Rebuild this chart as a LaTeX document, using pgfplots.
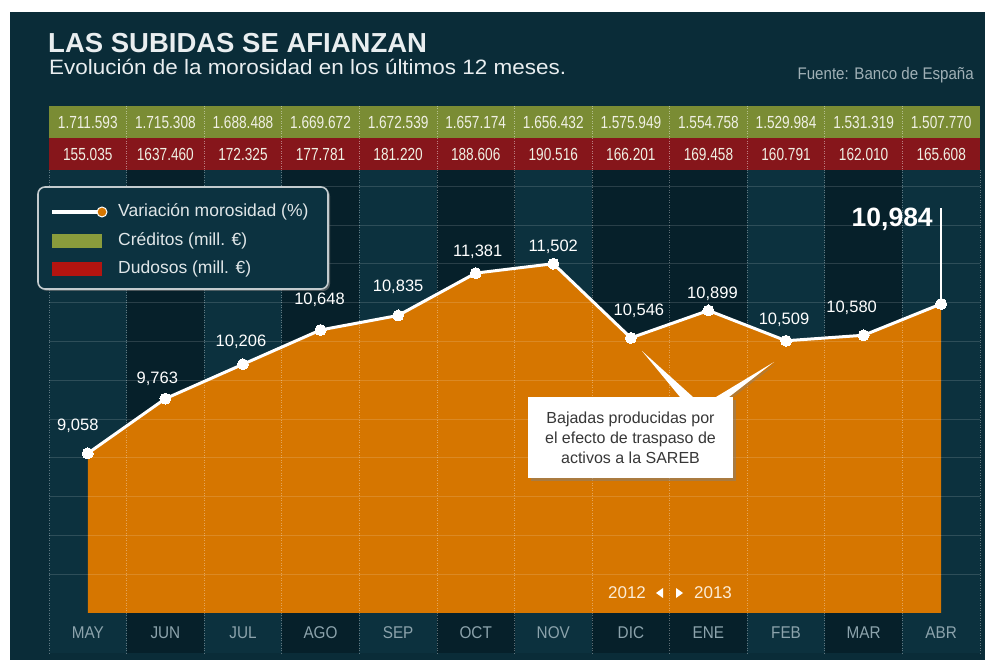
\documentclass[border=0pt]{standalone}
\usepackage{pgfplots}
\pgfplotsset{compat=1.18}
\usepackage{pgfplotstable}
\usepackage{fontspec}
\setmainfont{Liberation Sans}
\newfontfamily\cond[FakeStretch=0.9]{Liberation Sans}
\newfontfamily\tcond[FakeStretch=0.78]{Liberation Sans}
\newfontfamily\wide[FakeStretch=1.08]{Liberation Sans}
\usetikzlibrary{shadows}

\definecolor{bg}{RGB}{10,44,56}
\definecolor{colDark}{RGB}{6,32,42}
\definecolor{colLight}{RGB}{12,49,62}
\definecolor{orangeA}{RGB}{214,118,0}
\definecolor{greenC}{RGB}{122,140,52}
\definecolor{redC}{RGB}{134,22,27}
\definecolor{legGreen}{RGB}{138,156,60}
\definecolor{legRed}{RGB}{180,20,16}
\definecolor{monthGray}{RGB}{140,163,172}
\definecolor{srcGray}{RGB}{160,176,182}
\definecolor{titleC}{RGB}{233,238,240}
\definecolor{cellText}{RGB}{240,240,228}
\definecolor{legBox}{RGB}{12,50,64}

% Variacion morosidad (%), label offsets dx, dy (pt)
\pgfplotstableread{
x y dx dy
0 9.058 -10 28
1 9.763 -8 20
2 10.206 -2 22
3 10.648 -1 30
4 10.835 0 29
5 11.381 2 21
6 11.502 0 17
7 10.546 8 27
8 10.899 4 17
9 10.509 -2 21
10 10.580 -12 27
11 10.984 0 0
}\morosidad

\begin{document}
\begin{tikzpicture}[x=1pt,y=1pt]
\useasboundingbox (0,0) rectangle (994,662);
\fill[white] (0,0) rectangle (994,662);
\fill[bg] (10,2) rectangle (985,650);
% column shading
\foreach \i in {0,2,4,6,9,11}
  \fill[colLight] ({49+77.583*\i},9) rectangle ({49+77.583*(\i+1)},492);
\foreach \i in {1,3,5,7,8,10}
  \fill[colDark] ({49+77.583*\i},9) rectangle ({49+77.583*(\i+1)},492);

\begin{axis}[
  at={(49pt,49pt)}, anchor=south west,
  scale only axis, width=931pt, height=443pt,
  xmin=-0.5, xmax=11.5, ymin=7, ymax=12.71,
  axis line style={draw=none},
  axis on top,
  /pgf/number format/assume math mode=true,
  ytick={7.5,8,8.5,9,9.5,10,10.5,11,11.5,12,12.5}, yticklabels={},
  ymajorgrids,
  grid style={white, opacity=0.14, line width=1pt},
  xtick={0,...,11},
  xticklabels={MAY,JUN,JUL,AGO,SEP,OCT,NOV,DIC,ENE,FEB,MAR,ABR},
  xticklabel style={anchor=center, yshift=-20pt, font=\cond\fontsize{17}{17}\selectfont, text=monthGray},
  major tick length=0pt,
]
\addplot[fill=orangeA, draw=none] table[x=x,y=y]{\morosidad} \closedcycle;
\addplot[white, line width=3pt, mark=*, mark size=5.5pt,
  mark options={fill=white, draw=white, line width=0pt}] table[x=x,y=y]{\morosidad};
\addplot[draw=none, mark=none, skip coords between index={11}{12},
  point meta=y,
  nodes near coords={\pgfmathprintnumber[fixed,fixed zerofill,precision=3,use comma,assume math mode=true]{\pgfplotspointmeta}},
  visualization depends on={\thisrow{dx} \as \dx},
  visualization depends on={\thisrow{dy} \as \dy},
  every node near coord/.append style={anchor=center, xshift=\dx pt, yshift=\dy pt,
    font=\fontsize{16.5}{16.5}\selectfont, text=white, inner sep=0pt}]
  table[x=x,y=y]{\morosidad};
\coordinate (abr) at (axis cs:11,10.984);
\end{axis}

% dotted column separators
\foreach \k in {0,...,12}
  \draw[white, opacity=0.35, line width=0.8pt, dash pattern=on 1pt off 1.5pt]
    ({49+77.583*\k},492) -- ({49+77.583*\k},9);

% table rows
\fill[greenC] (49,524) rectangle (980,556);
\fill[redC] (49,492) rectangle (980,524);
\foreach \k in {1,...,11}
  \draw[white, opacity=0.45, line width=0.8pt, dash pattern=on 1pt off 1.5pt]
    ({49+77.583*\k},556) -- ({49+77.583*\k},492);
\foreach \v [count=\i from 0] in {1.711.593,1.715.308,1.688.488,1.669.672,1.672.539,1.657.174,1.656.432,1.575.949,1.554.758,1.529.984,1.531.319,1.507.770}
  \node[font=\tcond\fontsize{17.5}{17.5}\selectfont, text=cellText] at ({49+77.583*(\i+0.5)},540) {\v};
\foreach \v [count=\i from 0] in {155.035,1637.460,172.325,177.781,181.220,188.606,190.516,166.201,169.458,160.791,162.010,165.608}
  \node[font=\tcond\fontsize{17.5}{17.5}\selectfont, text=cellText] at ({49+77.583*(\i+0.5)},508) {\v};

% title block
\node[anchor=base west, inner sep=0pt, font=\bfseries\fontsize{27.5}{27.5}\selectfont, text=titleC] at (48,609) {LAS SUBIDAS SE AFIANZAN};
\node[anchor=base west, inner sep=0pt, font=\wide\fontsize{20.8}{20.8}\selectfont, text=titleC] at (49,587) {Evolución de la morosidad en los últimos 12 meses.};
\node[anchor=base east, inner sep=0pt, font=\cond\fontsize{16.8}{16.8}\selectfont, text=srcGray] at (974,582) {Fuente: Banco de España};

% last value callout
\draw[white, line width=1.5pt] (abr) -- ++(0,96);
\path (abr) ++(-49,85) node[font=\bfseries\fontsize{26.5}{26.5}\selectfont, text=white] {10,984};

% year marker
\node[font=\fontsize{17}{17}\selectfont, text={rgb,255:red,252;green,236;blue,214}] at (627,69) {2012};
\node[font=\fontsize{17}{17}\selectfont, text={rgb,255:red,252;green,236;blue,214}] at (713,69) {2013};
\fill[white] (656,69) -- (663,74) -- (663,64) -- cycle;
\fill[white] (683,69) -- (676,74) -- (676,64) -- cycle;

% annotation pointers and box
\fill[white, drop shadow={shadow xshift=2pt, shadow yshift=-2pt, opacity=0.4}] (642,311) -- (693,265) -- (680,265) -- cycle;
\fill[white, drop shadow={shadow xshift=2pt, shadow yshift=-2pt, opacity=0.4}] (774,300) -- (716,265) -- (729,265) -- cycle;
\node[fill=white, minimum width=205pt, minimum height=81pt, inner sep=0pt,
  drop shadow={shadow xshift=3pt, shadow yshift=-3pt, opacity=0.5},
  align=center, font=\fontsize{16}{20}\selectfont, text={rgb,255:red,55;green,55;blue,55}]
  at (630.5,224.5) {Bajadas producidas por\\el efecto de traspaso de\\activos a la SAREB};

% legend
\draw[rounded corners=7pt, draw={rgb,255:red,195;green,203;blue,206}, line width=1.6pt, fill=legBox,
  drop shadow={shadow xshift=2pt, shadow yshift=-2pt, opacity=0.6}] (38,475) rectangle (328,373);
\draw[white, line width=3.5pt] (52,450) -- (100,450);
\fill[orangeA, draw=white, line width=1pt] (102,450) circle (5);
\fill[legGreen] (52,428) rectangle (102,414);
\fill[legRed] (52,400) rectangle (102,386);
\node[anchor=west, inner sep=0pt, font=\fontsize{17.5}{17.5}\selectfont, text={rgb,255:red,224;green,230;blue,232}] at (118,450) {Variación morosidad (\%)};
\node[anchor=west, inner sep=0pt, font=\fontsize{17.5}{17.5}\selectfont, text={rgb,255:red,224;green,230;blue,232}] at (118,421) {Créditos (mill. €)};
\node[anchor=west, inner sep=0pt, font=\fontsize{17.5}{17.5}\selectfont, text={rgb,255:red,224;green,230;blue,232}] at (118,393) {Dudosos (mill. €)};
\end{tikzpicture}
\end{document}
